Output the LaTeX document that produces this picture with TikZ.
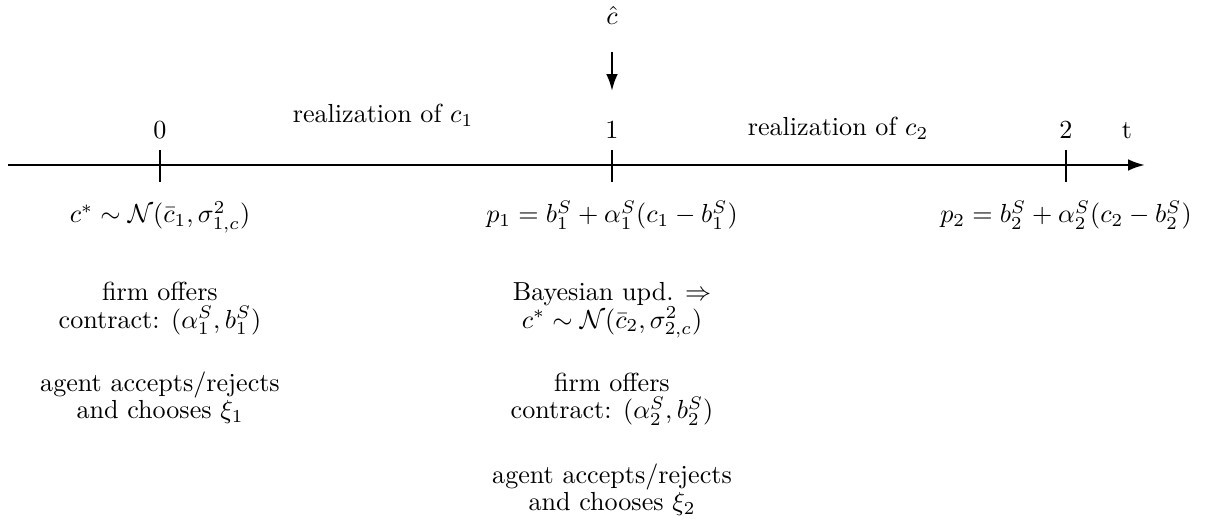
\documentclass[tikz,border=0pt]{standalone}
\usepackage{amsmath,amssymb}
\usetikzlibrary{arrows.meta}
\begin{document}
\begin{tikzpicture}[x=0.3831pt,y=-0.3831pt,
  lbl/.style={anchor=base,inner sep=0pt},
  axis/.style={line width=0.9pt,-{Latex[length=6.5pt,width=4.5pt]}},
  tickmark/.style={line width=0.8pt}]
\useasboundingbox (0,0) rectangle (1207,527);
% time axis
\coordinate (aS) at (8,165);
\coordinate (aE) at (1145,165);
\draw[axis] (aS) -- (aE);
% ticks
\coordinate (t0a) at (160,150); \coordinate (t0b) at (160,182);
\coordinate (t1a) at (612,150); \coordinate (t1b) at (612,182);
\coordinate (t2a) at (1066,150); \coordinate (t2b) at (1066,182);
\draw[tickmark] (t0a) -- (t0b);
\draw[tickmark] (t1a) -- (t1b);
\draw[tickmark] (t2a) -- (t2b);
% tick labels
\node[lbl] (n0) at (160,139) {0};
\node[lbl] (n1) at (612,139) {1};
\node[lbl] (n2) at (1066,139) {2};
\node[lbl] (nt) at (1127,139) {t};
\node[lbl] (r1) at (383,123) {realization of $c_1$};
\node[lbl] (r2) at (838,136) {realization of $c_2$};
% c hat arrow
\node[lbl] (chat) at (612,25) {$\hat{c}$};
\coordinate (arS) at (612,52);
\coordinate (arE) at (612,91);
\draw[axis] (arS) -- (arE);
% below axis
\node[lbl] (d0) at (160,223) {$c^*\sim\mathcal{N}(\bar{c}_1,\sigma^2_{1,c})$};
\node[lbl] (p1) at (612,223) {$p_1=b_1^S+\alpha_1^S(c_1-b_1^S)$};
\node[lbl] (p2) at (1066,223) {$p_2=b_2^S+\alpha_2^S(c_2-b_2^S)$};
% left column
\node[lbl] (f0a) at (160,301) {firm offers};
\node[lbl] (f0b) at (160,328) {contract: $(\alpha_1^S,b_1^S)$};
\node[lbl] (g0a) at (160,392) {agent accepts/rejects};
\node[lbl] (g0b) at (160,419) {and chooses $\xi_1$};
% middle column
\node[lbl] (bya) at (612,301) {Bayesian upd. $\Rightarrow$};
\node[lbl] (byb) at (612,328) {$c^*\sim\mathcal{N}(\bar{c}_2,\sigma^2_{2,c})$};
\node[lbl] (f1a) at (612,392) {firm offers};
\node[lbl] (f1b) at (612,419) {contract: $(\alpha_2^S,b_2^S)$};
\node[lbl] (g1a) at (612,484) {agent accepts/rejects};
\node[lbl] (g1b) at (612,511) {and chooses $\xi_2$};
\end{tikzpicture}
\end{document}
